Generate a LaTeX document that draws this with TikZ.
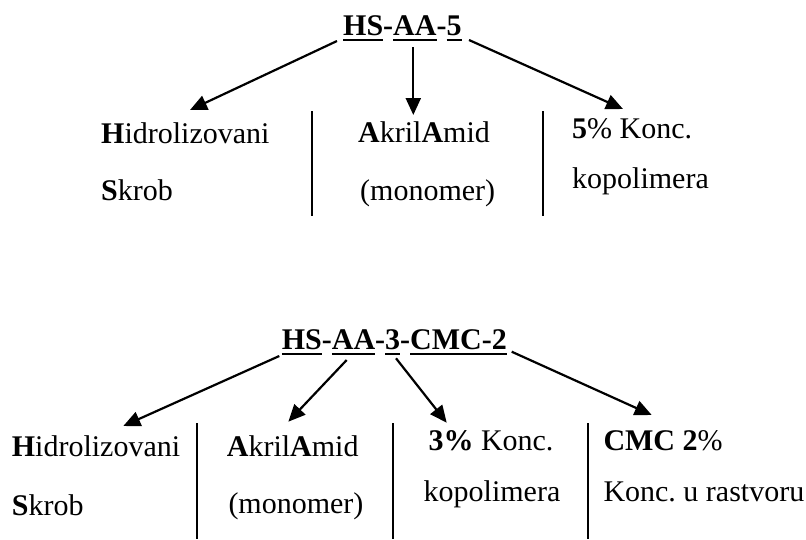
\documentclass[tikz,border=0pt]{standalone}
\usepackage{fontspec}
\setmainfont{Liberation Serif}
\usetikzlibrary{arrows.meta}
\frenchspacing

% underlined piece of a code word, rule drawn just below the baseline
\newcommand{\codeul}[1]{\setbox0\hbox{#1}\rlap{\rule[-6.2pt]{\wd0}{2.4pt}}\box0}

\tikzset{
  txt/.style={inner sep=0pt, anchor=base west, font=\fontsize{30}{36}\selectfont},
  code/.style={txt, font=\fontsize{30}{36}\selectfont\bfseries},
  arr/.style={line width=2.2pt, -{Triangle[length=17pt,width=15pt]}},
  sep/.style={line width=2pt}
}

\begin{document}
\begin{tikzpicture}[x=1pt, y=-1pt]
\useasboundingbox (0,0) rectangle (806,539);

% ---------- HS-AA-5 ----------
\node[code] (t1) at (343,35) {\codeul{HS}-\codeul{AA}-\codeul{5}};

\node[txt] (h1) at (101,143.3) {\textbf{H}idrolizovani};
\node[txt] (s1) at (101,200.5) {\textbf{S}krob};
\node[txt] (a1) at (358,142.5) {\textbf{A}kril\textbf{A}mid};
\node[txt] (m1) at (360,200) {(monomer)};
\node[txt] (c1) at (572,138.3) {\textbf{5}\% Konc.};
\node[txt] (k1) at (572,188.3) {kopolimera};

\coordinate (t1l) at (337,41);
\coordinate (t1m) at (413.3,47);
\coordinate (t1r) at (469,40);
\coordinate (e1l) at (190,110);
\coordinate (e1m) at (413.3,115);
\coordinate (e1r) at (623,109);

\draw[arr] (t1l) -- (e1l);
\draw[arr] (t1m) -- (e1m);
\draw[arr] (t1r) -- (e1r);

\coordinate (v1a) at (311.7,111);
\coordinate (v1b) at (311.7,216);
\coordinate (v2a) at (543.3,111);
\coordinate (v2b) at (543.3,216);
\draw[sep] (v1a) -- (v1b);
\draw[sep] (v2a) -- (v2b);

% ---------- HS-AA-3-CMC-2 ----------
\node[code] (t2) at (281.7,349) {\codeul{HS}-\codeul{AA}-\codeul{3}-\codeul{CMC-2}};

\node[txt] (h2) at (11.7,456) {\textbf{H}idrolizovani};
\node[txt] (s2) at (11.7,515) {\textbf{S}krob};
\node[txt] (a2) at (226.7,456) {\textbf{A}kril\textbf{A}mid};
\node[txt] (m2) at (228.3,513) {(monomer)};
\node[txt] (c2) at (428.3,450.5) {\textbf{3\%} Konc.};
\node[txt] (k2) at (423.5,501) {kopolimera};
\node[txt] (d2) at (603.3,450.5) {\textbf{CMC 2}\%};
\node[txt] (r2) at (603.3,501.5) {Konc. u rastvoru};

\coordinate (t2a) at (279.3,356);
\coordinate (t2b) at (346.7,360);
\coordinate (t2c) at (396,358.3);
\coordinate (t2d) at (511.7,351.7);
\coordinate (e2a) at (123.3,426);
\coordinate (e2b) at (288.3,421.7);
\coordinate (e2c) at (446.7,422.7);
\coordinate (e2d) at (651.7,415);

\draw[arr] (t2a) -- (e2a);
\draw[arr] (t2b) -- (e2b);
\draw[arr] (t2c) -- (e2c);
\draw[arr] (t2d) -- (e2d);

\coordinate (w1a) at (196.7,423.3);
\coordinate (w1b) at (196.7,539);
\coordinate (w2a) at (392.7,423.3);
\coordinate (w2b) at (392.7,539);
\coordinate (w3a) at (587.8,423.3);
\coordinate (w3b) at (587.8,539);
\draw[sep] (w1a) -- (w1b);
\draw[sep] (w2a) -- (w2b);
\draw[sep] (w3a) -- (w3b);
\end{tikzpicture}
\end{document}
